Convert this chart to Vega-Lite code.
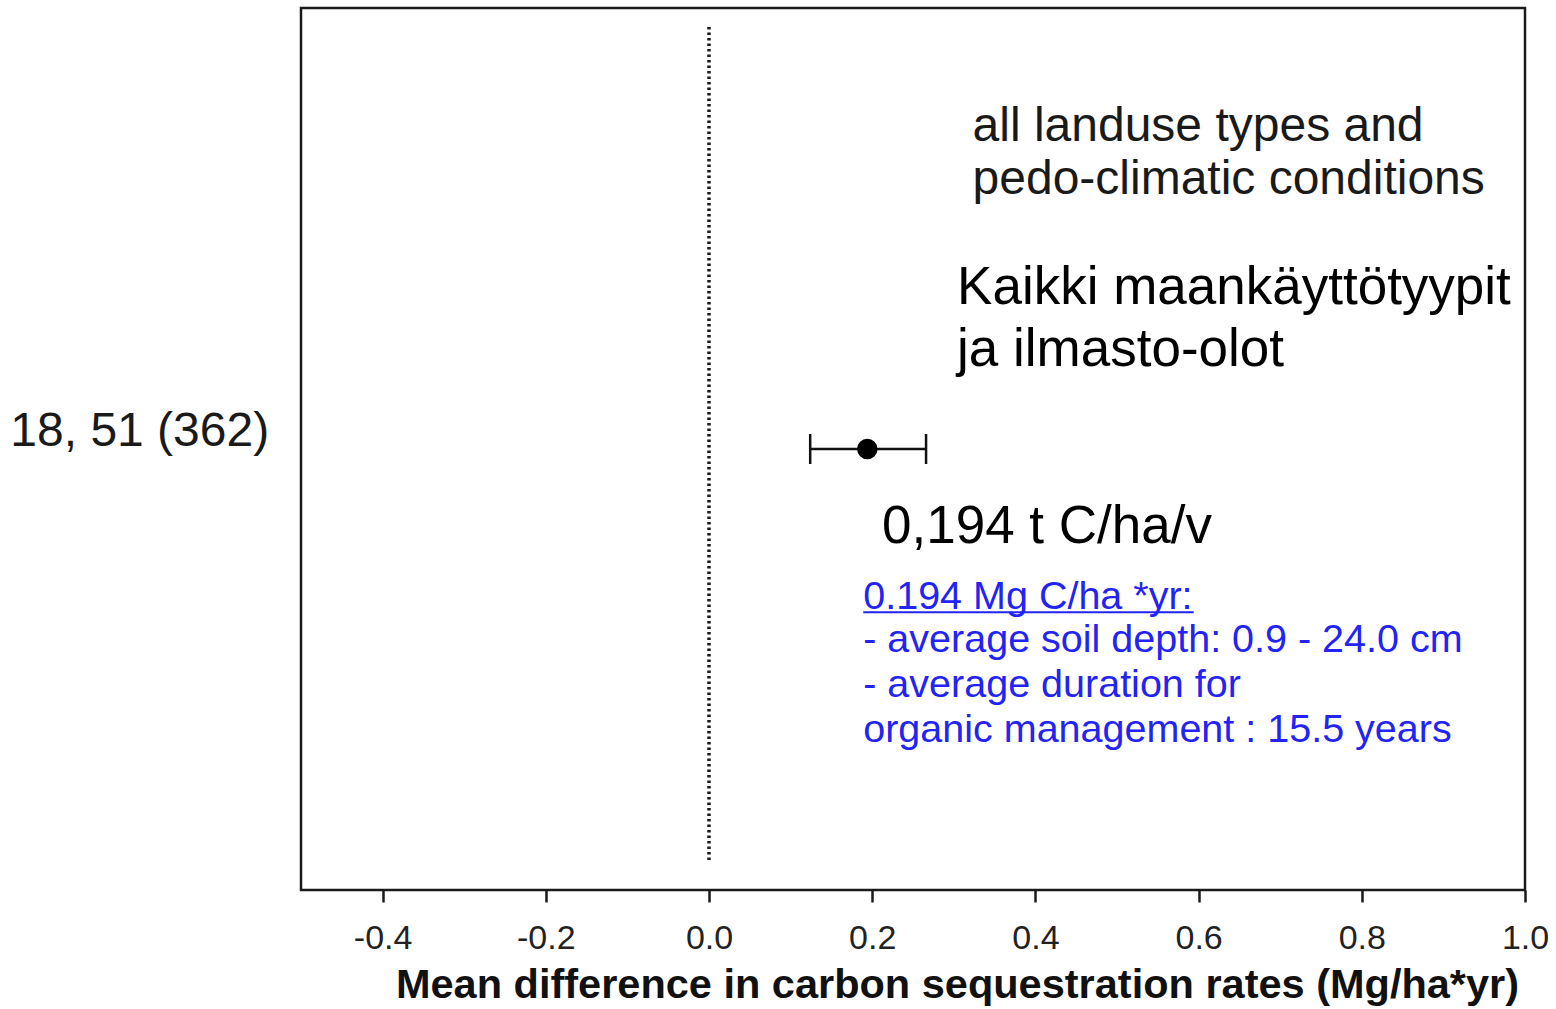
{
  "$schema": "https://vega.github.io/schema/vega-lite/v6.json",
  "width": 1224,
  "height": 882,
  "autosize": {"type": "none"},
  "padding": {"left": 301, "top": 8, "right": 31, "bottom": 119},
  "background": "white",
  "config": {
    "view": {"stroke": "#1a1a1a", "strokeWidth": 2.5},
    "font": "Liberation Sans"
  },
  "datasets": {
    "est": [{"label": "18, 51 (362)", "mean": 0.194, "lo": 0.124, "hi": 0.266, "row": 0.5, "labx": -0.539, "laby": 0.519}],
    "zero": [{"x": 0, "y": 0.034, "y2": 0.981}],
    "en": [{"t": "all landuse types and", "x": 0.323, "y": 0.865}, {"t": "pedo-climatic conditions", "x": 0.323, "y": 0.805}],
    "fi": [{"t": "Kaikki maankäyttötyypit", "x": 0.304, "y": 0.683}, {"t": "ja ilmasto-olot", "x": 0.304, "y": 0.612}],
    "val": [{"t": "0,194 t C/ha/v", "x": 0.212, "y": 0.412}],
    "blue": [
      {"t": "0.194 Mg C/ha *yr:", "x": 0.189, "y": 0.332},
      {"t": "- average soil depth: 0.9 - 24.0 cm", "x": 0.189, "y": 0.283},
      {"t": "- average duration for", "x": 0.189, "y": 0.232},
      {"t": "organic management : 15.5 years", "x": 0.189, "y": 0.181}
    ],
    "uline": [{"x": 0.189, "x2": 0.594, "y": 0.315}]
  },
  "encoding": {},
  "layer": [
    {
      "data": {"name": "zero"},
      "mark": {"type": "rule", "color": "#1a1a1a", "strokeWidth": 3.5, "strokeDash": [2.5, 3]},
      "encoding": {
        "x": {"field": "x", "type": "quantitative", "scale": {"domain": [-0.5, 1.0], "nice": false, "zero": false},
          "axis": {
            "values": [-0.4, -0.2, 0, 0.2, 0.4, 0.6, 0.8, 1.0],
            "format": ".1f",
            "labelExpr": "replace(datum.label, '\u2212', '-')",
            "title": "Mean difference in carbon sequestration rates (Mg/ha*yr)",
            "titleFont": "Liberation Sans",
            "titleFontSize": 41.5,
            "titleFontWeight": "bold",
            "titleColor": "#111",
            "titlePadding": 9,
            "titleX": 656,
            "labelFont": "Liberation Sans",
            "labelFontSize": 34,
            "labelColor": "#222",
            "labelPadding": 19,
            "labelFlush": false,
            "tickSize": 12,
            "tickWidth": 2.5,
            "tickColor": "#1a1a1a",
            "domain": false,
            "grid": false
          }},
        "y": {"field": "y", "type": "quantitative", "scale": {"domain": [0, 1], "nice": false, "zero": false}, "axis": null},
        "y2": {"field": "y2"}
      }
    },
    {
      "data": {"name": "est"},
      "mark": {"type": "rule", "color": "#111", "strokeWidth": 2.5},
      "encoding": {
        "x": {"field": "lo", "type": "quantitative"},
        "x2": {"field": "hi"},
        "y": {"field": "row", "type": "quantitative"}
      }
    },
    {
      "data": {"name": "est"},
      "mark": {"type": "tick", "orient": "vertical", "color": "#111", "opacity": 1, "size": 30, "thickness": 2.5},
      "encoding": {
        "x": {"field": "lo", "type": "quantitative"},
        "y": {"field": "row", "type": "quantitative"}
      }
    },
    {
      "data": {"name": "est"},
      "mark": {"type": "tick", "orient": "vertical", "color": "#111", "opacity": 1, "size": 30, "thickness": 2.5},
      "encoding": {
        "x": {"field": "hi", "type": "quantitative"},
        "y": {"field": "row", "type": "quantitative"}
      }
    },
    {
      "data": {"name": "est"},
      "mark": {"type": "point", "shape": "circle", "filled": true, "color": "#000", "size": 420, "opacity": 1},
      "encoding": {
        "x": {"field": "mean", "type": "quantitative"},
        "y": {"field": "row", "type": "quantitative"}
      }
    },
    {
      "data": {"name": "est"},
      "mark": {"type": "text", "align": "right", "baseline": "middle", "fontSize": 48, "color": "#1a1a1a", "font": "Liberation Sans"},
      "encoding": {
        "x": {"field": "labx", "type": "quantitative"},
        "y": {"field": "laby", "type": "quantitative"},
        "text": {"field": "label"}
      }
    },
    {
      "data": {"name": "en"},
      "mark": {"type": "text", "align": "left", "baseline": "middle", "fontSize": 48, "color": "#1a1a1a", "font": "Liberation Sans"},
      "encoding": {
        "x": {"field": "x", "type": "quantitative"},
        "y": {"field": "y", "type": "quantitative"},
        "text": {"field": "t"}
      }
    },
    {
      "data": {"name": "fi"},
      "mark": {"type": "text", "align": "left", "baseline": "middle", "fontSize": 53, "color": "#000", "font": "Liberation Sans"},
      "encoding": {
        "x": {"field": "x", "type": "quantitative"},
        "y": {"field": "y", "type": "quantitative"},
        "text": {"field": "t"}
      }
    },
    {
      "data": {"name": "val"},
      "mark": {"type": "text", "align": "left", "baseline": "middle", "fontSize": 53, "color": "#000", "font": "Liberation Sans"},
      "encoding": {
        "x": {"field": "x", "type": "quantitative"},
        "y": {"field": "y", "type": "quantitative"},
        "text": {"field": "t"}
      }
    },
    {
      "data": {"name": "blue"},
      "mark": {"type": "text", "align": "left", "baseline": "middle", "fontSize": 39.5, "color": "#2323f5", "font": "Liberation Sans"},
      "encoding": {
        "x": {"field": "x", "type": "quantitative"},
        "y": {"field": "y", "type": "quantitative"},
        "text": {"field": "t"}
      }
    },
    {
      "data": {"name": "uline"},
      "mark": {"type": "rule", "color": "#2323f5", "strokeWidth": 2},
      "encoding": {
        "x": {"field": "x", "type": "quantitative"},
        "x2": {"field": "x2"},
        "y": {"field": "y", "type": "quantitative"}
      }
    }
  ]
}
